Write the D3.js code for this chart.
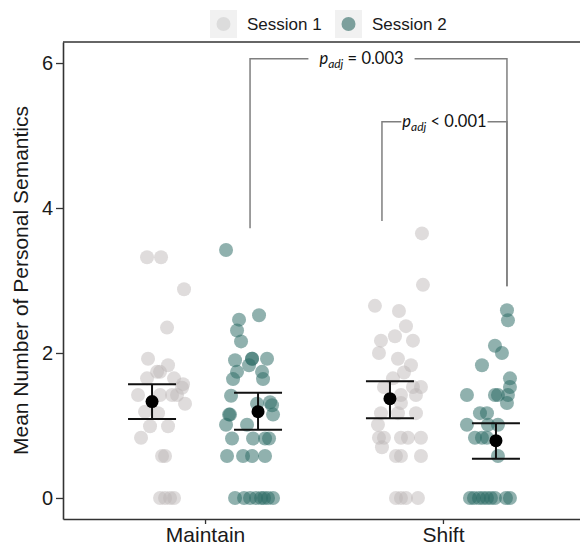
<!DOCTYPE html>
<html>
<head>
<meta charset="utf-8">
<script src="https://cdn.jsdelivr.net/npm/d3@7"></script>
<style>
  body { margin: 0; background: #fff; }
  svg { display: block; }
</style>
</head>
<body>
<svg width="580" height="545"></svg>
<script>
// Data
var conditions = ["Maintain", "Shift"];
var sessions = ["Session 1", "Session 2"];
var yTicks = [0, 2, 4, 6];

// individual participants: [value, jitter]
var maintainS1 = [[3.32,-5],[3.32,9],[2.88,32],[2.35,15],[1.92,-4],[1.83,16],[1.74,5],[1.74,8],[1.65,-5],[1.65,22],
  [1.57,31],[1.52,30],[1.42,-14],[1.42,8],[1.42,20],[1.42,25],[1.30,33],[1.19,-7],[1.17,6],[0.99,-2],[0.99,16],
  [0.83,-11],[0.58,10],[0.58,13],[0,8],[0,13],[0,18],[0,22]];
var maintainS2 = [[3.42,-32],[2.52,1],[2.46,-19],[2.31,-21],[2.16,-17],[1.90,-23],[1.92,-6],[1.92,-6],[1.83,-9],
  [1.92,9],[1.74,-21],[1.74,4],[1.64,-25],[1.64,5],[1.41,-27],[1.30,-1],[1.32,12],[1.28,14],[1.15,-29],[1.15,-28],
  [1.15,15],[1.01,-32],[1.01,-11],[0.82,-26],[0.82,-5],[0.82,7],[0.82,11],[0.58,-31],[0.58,-15],[0.58,-6],[0.58,7],
  [0,-23],[0,-14],[0,-8],[0,-2],[0,3],[0,6],[0,10],[0,15]];
var shiftS1 = [[3.65,32],[2.94,33],[2.65,-15],[2.58,9],[2.37,16],[2.23,5],[2.17,-9],[2.17,23],[2.00,-11],[1.92,8],
  [1.83,21],[1.73,14],[1.65,3],[1.53,-6],[1.53,23],[1.53,31],[1.42,11],[1.42,26],[1.31,11],[1.17,-9],[1.17,8],
  [1.17,26],[1.01,-12],[0.83,-11],[0.83,-6],[0.83,11],[0.83,18],[0.83,31],[0.70,-8],[0.58,6],[0.58,11],[0.58,31],
  [0,6],[0,11],[0,16],[0,28]];
var shiftS2 = [[2.59,11],[2.45,12],[2.10,-1],[2.00,6],[1.83,-14],[1.65,14],[1.53,14],[1.42,-29],[1.42,-1],[1.42,2],
  [1.42,12],[1.31,11],[1.17,-16],[1.17,-9],[1.01,-29],[1.01,-8],[1.01,2],[0.83,-21],[0.83,-14],[0.83,-9],[0.58,2],
  [0,-26],[0,-22],[0,-17],[0,-13],[0,-9],[0,-5],[0,-1],[0,10],[0,14]];

// group summaries (mean and error bar)
var means = [1.33, 1.19, 1.37, 0.79];
var lower = [1.09, 0.94, 1.10, 0.54];
var upper = [1.57, 1.45, 1.61, 1.03];

// significance brackets: left group, right group, bar height, leg bottoms
var bracketLabels = ["= 0.003", "< 0.001"];
var bracketFrom = [["Maintain","Session 2"], ["Shift","Session 1"]];
var bracketTo = [["Shift","Session 2"], ["Shift","Session 2"]];
var bracketY = [6.06, 5.19];
var bracketLegs = [[3.72, 2.92], [3.82, 2.92]];

var svg = d3.select("svg"),
	width = +svg.attr("width"),
	height = +svg.attr("height");

var mLeft = 63, mTop = 42, mBottom = 519;
var axisFont = "'Liberation Sans', Arial, sans-serif";
var noteFont = "Lato, 'Open Sans', sans-serif";

// Scales
var y = d3.scaleLinear().domain([-0.29, 6.29]).range([mBottom, mTop]);
var x = d3.scalePoint().domain(conditions).range([mLeft, 585]).padding(0.597);
var xs = d3.scalePoint().domain(sessions).range([-53, 53]);
var jit = d3.scaleLinear().domain([-35, 35]).range([-35, 35]);
var fill = d3.scaleOrdinal().domain(sessions).range(["#bdb6b6", "#2a6a64"]);
var alpha = d3.scaleOrdinal().domain(sessions).range([0.48, 0.52]);
var legendFill = d3.scaleOrdinal().domain(sessions).range(["#dcdcdc", "#7c9f9c"]);

var groups = [
	{cond: "Maintain", sess: "Session 1", pts: maintainS1},
	{cond: "Maintain", sess: "Session 2", pts: maintainS2},
	{cond: "Shift", sess: "Session 1", pts: shiftS1},
	{cond: "Shift", sess: "Session 2", pts: shiftS2}
];
groups.forEach(function(g, i) {
	g.mean = means[i]; g.lo = lower[i]; g.hi = upper[i];
	g.cx = x(g.cond) + xs(g.sess);
});

// Points
groups.forEach(function(g) {
	svg.append("g").selectAll("circle")
		.data(g.pts)
		.enter()
		.append("circle")
		.attr("cx", function(d) { return g.cx + jit(d[1]); })
		.attr("cy", function(d) { return y(d[0]); })
		.attr("r", 7)
		.attr("fill", fill(g.sess))
		.attr("fill-opacity", alpha(g.sess));
});

// Error bars and means
var eb = svg.append("g").selectAll("g").data(groups).enter().append("g");
eb.append("line")
	.attr("x1", function(d) { return d.cx; }).attr("x2", function(d) { return d.cx; })
	.attr("y1", function(d) { return y(d.lo); }).attr("y2", function(d) { return y(d.hi); })
	.attr("stroke", "#111").attr("stroke-width", 2);
["lo", "hi"].forEach(function(k) {
	eb.append("line")
		.attr("x1", function(d) { return d.cx - 24; }).attr("x2", function(d) { return d.cx + 24; })
		.attr("y1", function(d) { return y(d[k]); }).attr("y2", function(d) { return y(d[k]); })
		.attr("stroke", "#111").attr("stroke-width", 2);
});
eb.append("circle")
	.attr("cx", function(d) { return d.cx; })
	.attr("cy", function(d) { return y(d.mean); })
	.attr("r", 6.5)
	.attr("fill", "#000");

// Axes
var yAxis = svg.append("g")
	.attr("transform", "translate(" + mLeft + ",0)")
	.call(d3.axisLeft(y).tickValues(yTicks).tickFormat(d3.format("d"))
		.tickSize(7).tickSizeOuter(0).tickPadding(3));
var xAxis = svg.append("g")
	.attr("transform", "translate(0," + mBottom + ")")
	.call(d3.axisBottom(x).tickSize(5).tickSizeOuter(0).tickPadding(3));
[yAxis, xAxis].forEach(function(a) {
	a.select(".domain").attr("stroke", "#333").attr("stroke-width", 1.6);
	a.selectAll(".tick line").attr("stroke", "#333").attr("stroke-width", 1.3);
	a.selectAll("text").attr("font-family", axisFont).attr("font-size", 20).attr("fill", "#1a1a1a");
});
xAxis.selectAll("text").attr("font-size", 21);
// top frame line
svg.append("line")
	.attr("x1", mLeft).attr("x2", width)
	.attr("y1", mTop).attr("y2", mTop)
	.attr("stroke", "#333").attr("stroke-width", 1.6);

// Y title
svg.append("text")
	.attr("transform", "translate(28," + ((mTop + mBottom) / 2) + ") rotate(-90)")
	.attr("text-anchor", "middle")
	.attr("font-family", axisFont)
	.attr("font-size", 21)
	.attr("fill", "#1a1a1a")
	.text("Mean Number of Personal Semantics");

// Brackets
bracketLabels.forEach(function(lab, i) {
	var x1 = x(bracketFrom[i][0]) + xs(bracketFrom[i][1]) - 8,
		x2 = x(bracketTo[i][0]) + xs(bracketTo[i][1]) + 11,
		yb = y(bracketY[i]);
	var g = svg.append("g");
	var t = g.append("text")
		.attr("y", yb + 5)
		.attr("font-family", noteFont)
		.attr("font-size", 16.5)
		.attr("fill", "#111");
	t.append("tspan").attr("font-style", "italic").text("p");
	t.append("tspan").attr("font-style", "italic").attr("font-size", 12).attr("dy", 4).text("adj");
	t.append("tspan").attr("dy", -4).text(" " + lab);
	var tw = t.node().getComputedTextLength();
	var tx = i === 0 ? (x1 + x2) / 2 - 17 - tw / 2 : (x1 + x2) / 2 - tw / 2;
	t.attr("x", tx);
	var gap = i === 0 ? 11 : 1;
	var path = d3.path();
	path.moveTo(x1, y(bracketLegs[i][0]));
	path.lineTo(x1, yb);
	path.lineTo(tx - gap, yb);
	path.moveTo(tx + tw + gap, yb);
	path.lineTo(x2, yb);
	path.lineTo(x2, y(bracketLegs[i][1]));
	g.append("path")
		.attr("d", path.toString())
		.attr("fill", "none")
		.attr("stroke", "#7f7f7f")
		.attr("stroke-width", 1.5);
});

// Legend
var legend = svg.append("g").attr("transform", "translate(210,10)");
var li = legend.selectAll("g").data(sessions).enter().append("g")
	.attr("transform", function(d, i) { return "translate(" + (i * 125) + ",0)"; });
li.append("rect").attr("width", 27).attr("height", 28).attr("fill", "#f1f1f1");
li.append("circle").attr("cx", 13.5).attr("cy", 14).attr("r", 7).attr("fill", function(d) { return legendFill(d); });
li.append("text")
	.attr("x", 37).attr("y", 20)
	.attr("font-family", axisFont)
	.attr("font-size", 17)
	.attr("fill", "#1a1a1a")
	.text(function(d) { return d; });
</script>
</body>
</html>
